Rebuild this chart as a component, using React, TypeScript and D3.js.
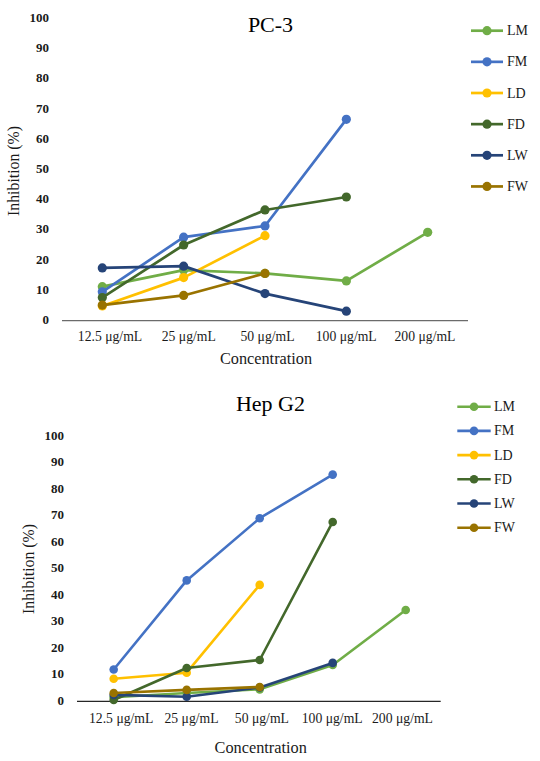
import React from "react";
import * as d3 from "d3";

const categories = ["12.5 μg/mL", "25 μg/mL", "50 μg/mL", "100 μg/mL", "200 μg/mL"];
const seriesNames = ["LM", "FM", "LD", "FD", "LW", "FW"];
const seriesColors = ["#70AD47", "#4472C4", "#FFC000", "#43682B", "#264478", "#997300"];
const yTicks = [0, 10, 20, 30, 40, 50, 60, 70, 80, 90, 100];

// PC-3 (values in %, null = not measured)
const pc3LM = [11.2, 16.7, 15.6, 13.1, 29.2];
const pc3FM = [9.5, 27.6, 31.3, 66.6, null];
const pc3LD = [4.8, 14.2, 28.1, null, null];
const pc3FD = [7.6, 25.0, 36.6, 40.9, null];
const pc3LW = [17.4, 18.0, 8.9, 3.1, null];
const pc3FW = [5.1, 8.3, 15.6, null, null];

// Hep G2
const hepLM = [1.4, 3.0, 4.4, 13.6, 34.4];
const hepFM = [11.9, 45.6, 69.1, 85.6, null];
const hepLD = [8.4, 10.7, 43.9, null, null];
const hepFD = [0.4, 12.5, 15.5, 67.7, null];
const hepLW = [2.3, 1.6, 5.1, 14.4, null];
const hepFW = [3.0, 4.2, 5.3, null, null];

const FONT = "'Liberation Serif', 'Times New Roman', serif";

type Panel = {
  title: string;
  series: (number | null)[][];
  pointRange: [number, number];
  labelRange: [number, number];
  axisX: [number, number];
  yRange: [number, number];
  axisY: number;
  axisColor: string;
  yTickRight: number;
  tickBaseline: number;
  titleX: number;
  titleBaseline: number;
  xTitleX: number;
  xTitleBaseline: number;
  yTitleX: number;
  yTitleY: number;
  legendLine: [number, number];
  legendY0: number;
  legendStep: number;
  legendTextX: number;
  r: number;
  sw: number;
};

const panels: Panel[] = [
  {
    title: "PC-3",
    series: [pc3LM, pc3FM, pc3LD, pc3FD, pc3LW, pc3FW],
    pointRange: [102.3, 427.7],
    labelRange: [110, 425],
    axisX: [62, 468],
    yRange: [320.5, 18.5],
    axisY: 320.7,
    axisColor: "#6b6b6b",
    yTickRight: 49,
    tickBaseline: 341,
    titleX: 270.5,
    titleBaseline: 32,
    xTitleX: 266,
    xTitleBaseline: 364,
    yTitleX: 13,
    yTitleY: 171,
    legendLine: [471, 503],
    legendY0: 30.7,
    legendStep: 31.15,
    legendTextX: 507,
    r: 4.6,
    sw: 2.7,
  },
  {
    title: "Hep G2",
    series: [hepLM, hepFM, hepLD, hepFD, hepLW, hepFW],
    pointRange: [113.7, 405.7],
    labelRange: [121.2, 402.5],
    axisX: [77, 440.7],
    yRange: [701, 436.5],
    axisY: 701.3,
    axisColor: "#262626",
    yTickRight: 64,
    tickBaseline: 723,
    titleX: 270.4,
    titleBaseline: 410.5,
    xTitleX: 260.7,
    xTitleBaseline: 753,
    yTitleX: 28,
    yTitleY: 569,
    legendLine: [457.3, 490.7],
    legendY0: 406.7,
    legendStep: 24.2,
    legendTextX: 494,
    r: 4.3,
    sw: 2.6,
  },
];

function ChartPanel({ p }: { p: Panel }) {
  const x = d3.scalePoint<string>().domain(categories).range(p.pointRange);
  const xl = d3.scalePoint<string>().domain(categories).range(p.labelRange);
  const y = d3.scaleLinear().domain([0, 100]).range(p.yRange);
  const line = d3
    .line<number | null>()
    .defined((d) => d != null)
    .x((_, i) => x(categories[i]) as number)
    .y((d) => y(d as number));

  return (
    <g>
      <text x={p.titleX} y={p.titleBaseline} textAnchor="middle" fontFamily={FONT} fontSize={22} fill="#000">
        {p.title}
      </text>
      {yTicks.map((t) => (
        <text
          key={t}
          x={p.yTickRight}
          y={y(t) - 1}
          textAnchor="end"
          dominantBaseline="central"
          fontFamily={FONT}
          fontSize={13}
          fontWeight="bold"
          fill="#1a1a1a"
        >
          {t}
        </text>
      ))}
      <line x1={p.axisX[0]} x2={p.axisX[1]} y1={p.axisY} y2={p.axisY} stroke={p.axisColor} strokeWidth={1.3} />
      {categories.map((c) => (
        <text key={c} x={xl(c)} y={p.tickBaseline} textAnchor="middle" fontFamily={FONT} fontSize={13.7} fill="#1a1a1a">
          {c}
        </text>
      ))}
      <text x={p.xTitleX} y={p.xTitleBaseline} textAnchor="middle" fontFamily={FONT} fontSize={16.3} fill="#1a1a1a">
        Concentration
      </text>
      <text
        transform={`translate(${p.yTitleX},${p.yTitleY}) rotate(-90)`}
        textAnchor="middle"
        dominantBaseline="central"
        fontFamily={FONT}
        fontSize={15.8}
        fill="#1a1a1a"
      >
        Inhibition (%)
      </text>
      {p.series.map((s, si) => (
        <g key={si}>
          <path d={line(s) || ""} fill="none" stroke={seriesColors[si]} strokeWidth={p.sw} strokeLinejoin="round" />
          {s.map((v, i) =>
            v == null ? null : (
              <circle key={i} cx={x(categories[i])} cy={y(v)} r={p.r} fill={seriesColors[si]} />
            )
          )}
        </g>
      ))}
      {seriesNames.map((n, i) => {
        const ly = p.legendY0 + i * p.legendStep;
        const mx = (p.legendLine[0] + p.legendLine[1]) / 2;
        return (
          <g key={n}>
            <line x1={p.legendLine[0]} x2={p.legendLine[1]} y1={ly} y2={ly} stroke={seriesColors[i]} strokeWidth={p.sw} />
            <circle cx={mx} cy={ly} r={p.r} fill={seriesColors[i]} />
            <text x={p.legendTextX} y={ly} dominantBaseline="central" fontFamily={FONT} fontSize={14} fill="#1a1a1a">
              {n}
            </text>
          </g>
        );
      })}
    </g>
  );
}

export default function App() {
  return (
    <svg
      width={540}
      height={761}
      viewBox="0 0 540 761"
      style={{ position: "absolute", left: 0, top: 0, display: "block", background: "#fff" }}
    >
      <rect x={0} y={0} width={540} height={761} fill="#fff" />
      {panels.map((p) => (
        <ChartPanel key={p.title} p={p} />
      ))}
    </svg>
  );
}
